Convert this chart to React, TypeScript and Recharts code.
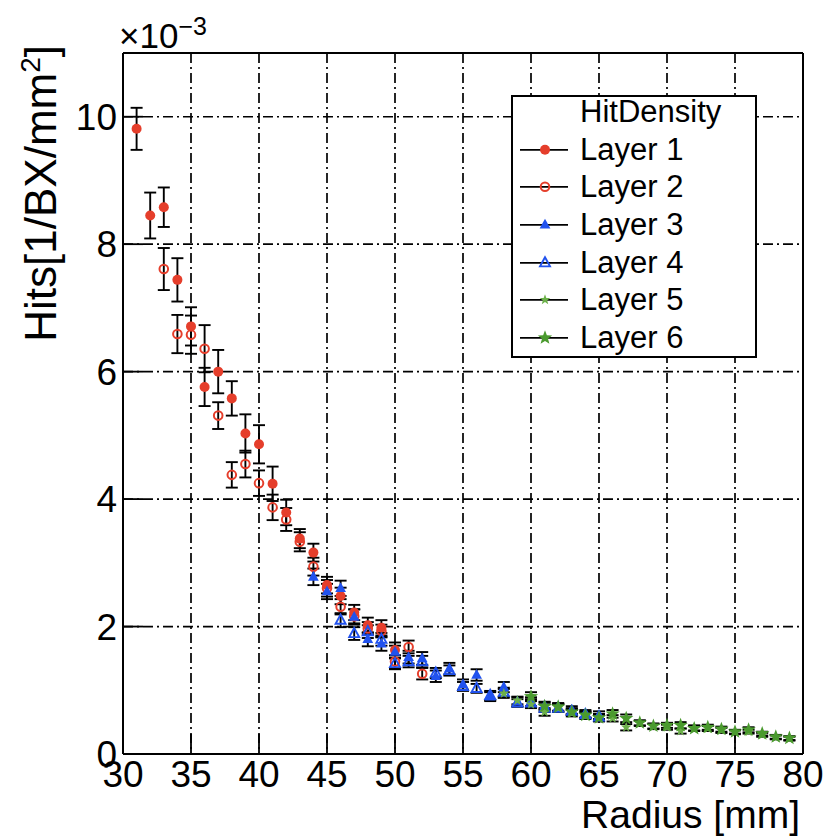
import React from 'react'
import {
  ScatterChart, Scatter, XAxis, YAxis, CartesianGrid, ErrorBar, ReferenceLine,
} from 'recharts'

// radius bins [mm] and hit densities (x1e-3 hits / BX / mm^2) per layer
const layer1Radius = [31, 32, 33, 34, 35, 36, 37, 38, 39, 40, 41, 42, 43, 44, 45, 46, 47, 48, 49, 50]
const layer1Hits = [9.81, 8.45, 8.58, 7.44, 6.71, 5.76, 6.0, 5.58, 5.03, 4.86, 4.24, 3.79, 3.38, 3.16, 2.65, 2.48, 2.22, 2.02, 1.98, 1.63]
const layer1Err = [0.33, 0.36, 0.31, 0.34, 0.3, 0.3, 0.34, 0.27, 0.3, 0.3, 0.27, 0.2, 0.15, 0.14, 0.13, 0.13, 0.12, 0.12, 0.12, 0.12]

const layer2Radius = [33, 34, 35, 36, 37, 38, 39, 40, 41, 42, 43, 44, 45, 46, 47, 48, 49, 50, 51, 52]
const layer2Hits = [7.61, 6.59, 6.58, 6.36, 5.31, 4.38, 4.55, 4.25, 3.87, 3.68, 3.33, 2.94, 2.6, 2.31, 2.16, 1.97, 1.93, 1.45, 1.68, 1.26]
const layer2Err = [0.33, 0.3, 0.3, 0.37, 0.21, 0.2, 0.21, 0.2, 0.2, 0.18, 0.15, 0.14, 0.13, 0.12, 0.11, 0.1, 0.1, 0.1, 0.1, 0.09]

const layer3Radius = [44, 45, 46, 47, 48, 49, 50, 51, 52, 53, 54, 55, 56, 57, 58, 59, 60, 61, 62, 63, 64, 65]
const layer3Hits = [2.78, 2.55, 2.6, 2.15, 1.8, 1.73, 1.6, 1.52, 1.5, 1.22, 1.34, 1.09, 1.24, 0.9, 1.05, 0.82, 0.82, 0.76, 0.73, 0.69, 0.63, 0.61]
const layer3Err = [0.13, 0.12, 0.12, 0.12, 0.11, 0.11, 0.1, 0.1, 0.1, 0.09, 0.09, 0.08, 0.09, 0.07, 0.08, 0.07, 0.07, 0.06, 0.06, 0.06, 0.06, 0.06]

const layer4Radius = [46, 47, 48, 49, 50, 51, 52, 53, 54, 55, 56, 57, 58, 59, 60, 61, 62, 63, 64, 65]
const layer4Hits = [2.1, 1.89, 1.92, 1.8, 1.42, 1.45, 1.45, 1.27, 1.31, 1.06, 1.03, 0.92, 0.97, 0.8, 0.8, 0.72, 0.72, 0.67, 0.62, 0.58]
const layer4Err = [0.11, 0.1, 0.1, 0.1, 0.09, 0.09, 0.09, 0.08, 0.08, 0.07, 0.07, 0.07, 0.07, 0.06, 0.06, 0.06, 0.06, 0.05, 0.05, 0.05]

const layer5Radius = [58, 59, 60, 61, 62, 63, 64, 65, 66, 67, 68, 69, 70, 71, 72, 73, 74, 75, 76, 77, 78, 79]
const layer5Hits = [0.95, 0.84, 0.78, 0.66, 0.72, 0.64, 0.6, 0.56, 0.56, 0.42, 0.48, 0.43, 0.42, 0.36, 0.41, 0.4, 0.37, 0.34, 0.35, 0.3, 0.26, 0.24]
const layer5Err = [0.07, 0.06, 0.06, 0.06, 0.06, 0.05, 0.05, 0.05, 0.05, 0.05, 0.04, 0.04, 0.04, 0.04, 0.04, 0.04, 0.04, 0.03, 0.03, 0.03, 0.03, 0.03]

const layer6Radius = [60, 61, 62, 63, 64, 65, 66, 67, 68, 69, 70, 71, 72, 73, 74, 75, 76, 77, 78, 79]
const layer6Hits = [0.9, 0.75, 0.74, 0.66, 0.61, 0.57, 0.63, 0.56, 0.49, 0.44, 0.45, 0.45, 0.4, 0.42, 0.39, 0.35, 0.38, 0.32, 0.27, 0.25]
const layer6Err = [0.07, 0.06, 0.06, 0.05, 0.05, 0.05, 0.06, 0.06, 0.04, 0.04, 0.04, 0.05, 0.04, 0.04, 0.04, 0.03, 0.04, 0.03, 0.03, 0.03]

const xTicks = [30, 35, 40, 45, 50, 55, 60, 65, 70, 75, 80]
const yTicks = [0, 2, 4, 6, 8, 10]
const xMinorTicks = Array.from({ length: 51 }, (_, i) => 30 + i)
const yMinorTicks = Array.from({ length: 23 }, (_, i) => i * 0.5)

const RED = '#e53e2b'
const BLUE = '#2152ee'
const GREEN_LIGHT = '#6cb04a'
const GREEN_DARK = '#4a9a2e'
const FONT = '"Liberation Sans", Arial, Helvetica, sans-serif'

const toPoints = (r: number[], v: number[], e: number[]) =>
  r.map((x, i) => ({ r: x, hits: v[i], err: e[i] }))

type MarkerKind = 'dot' | 'ring' | 'tri' | 'triOpen' | 'starSmall' | 'star'

function starPoints(cx: number, cy: number, R: number) {
  const pts: string[] = []
  for (let i = 0; i < 10; i++) {
    const rad = i % 2 === 0 ? R : R * 0.42
    const a = -Math.PI / 2 + (i * Math.PI) / 5
    pts.push(`${cx + rad * Math.cos(a)},${cy + rad * Math.sin(a)}`)
  }
  return pts.join(' ')
}

function Marker({ kind, cx, cy }: { kind: MarkerKind; cx: number; cy: number }) {
  switch (kind) {
    case 'dot':
      return <circle cx={cx} cy={cy} r={5} fill={RED} />
    case 'ring':
      return <circle cx={cx} cy={cy} r={4.3} fill="none" stroke={RED} strokeWidth={2} />
    case 'tri':
      return <polygon points={`${cx},${cy - 6} ${cx - 5.4},${cy + 3.8} ${cx + 5.4},${cy + 3.8}`} fill={BLUE} />
    case 'triOpen':
      return <polygon points={`${cx},${cy - 5.6} ${cx - 5},${cy + 3.6} ${cx + 5},${cy + 3.6}`} fill="none" stroke={BLUE} strokeWidth={1.9} />
    case 'starSmall':
      return <polygon points={starPoints(cx, cy, 5.5)} fill={GREEN_LIGHT} />
    default:
      return <polygon points={starPoints(cx, cy, 7.5)} fill={GREEN_DARK} />
  }
}

const layers: { name: string; kind: MarkerKind; data: { r: number; hits: number; err: number }[] }[] = [
  { name: 'Layer 1', kind: 'dot', data: toPoints(layer1Radius, layer1Hits, layer1Err) },
  { name: 'Layer 2', kind: 'ring', data: toPoints(layer2Radius, layer2Hits, layer2Err) },
  { name: 'Layer 3', kind: 'tri', data: toPoints(layer3Radius, layer3Hits, layer3Err) },
  { name: 'Layer 4', kind: 'triOpen', data: toPoints(layer4Radius, layer4Hits, layer4Err) },
  { name: 'Layer 5', kind: 'starSmall', data: toPoints(layer5Radius, layer5Hits, layer5Err) },
  { name: 'Layer 6', kind: 'star', data: toPoints(layer6Radius, layer6Hits, layer6Err) },
]

function LegendBox() {
  const rowH = 37.6
  return (
    <div style={{
      position: 'absolute', left: 511, top: 95, width: 242, height: 259,
      border: '2px solid #000', background: '#fff', fontFamily: FONT, fontSize: 31, color: '#000',
    }}>
      <div style={{ position: 'absolute', left: 67, top: -3.8, height: rowH, lineHeight: `${rowH}px`, whiteSpace: 'nowrap' }}>
        HitDensity
      </div>
      {layers.map((l, i) => (
        <div key={l.name} style={{ position: 'absolute', left: 0, top: -3.8 + rowH * (i + 1), height: rowH, width: 240 }}>
          <svg width={60} height={rowH} style={{ position: 'absolute', left: 0, top: 0 }}>
            <line x1={7} x2={55} y1={rowH / 2} y2={rowH / 2} stroke="#000" strokeWidth={1.8} />
            <Marker kind={l.kind} cx={32} cy={rowH / 2} />
          </svg>
          <span style={{ position: 'absolute', left: 67, top: 0, lineHeight: `${rowH}px`, whiteSpace: 'nowrap' }}>{l.name}</span>
        </div>
      ))}
    </div>
  )
}

export default function App() {
  const tickStyle = { fill: '#000', fontSize: 37, fontFamily: FONT }
  return (
    <div style={{ position: 'absolute', left: 0, top: 0, width: 825, height: 838, background: '#fff' }}>
      <ScatterChart width={825} height={838} margin={{ top: 53, right: 22, left: 63, bottom: 44 }}>
        <CartesianGrid stroke="#000" strokeWidth={1.7} strokeDasharray="10 4 2 4" />
        <XAxis
          type="number" dataKey="r" domain={[30, 80]} ticks={xTicks} interval={0}
          tick={tickStyle} tickSize={-20} tickMargin={27} height={40}
          axisLine={{ stroke: '#000', strokeWidth: 2 }} tickLine={{ stroke: '#000', strokeWidth: 1.8 }}
          allowDataOverflow
        />
        <XAxis
          xAxisId="minor" type="number" dataKey="r" domain={[30, 80]} ticks={xMinorTicks} interval={0}
          tick={false} tickSize={-10} height={0} axisLine={false}
          tickLine={{ stroke: '#000', strokeWidth: 1.8 }} allowDataOverflow
        />
        <YAxis
          type="number" dataKey="hits" domain={[0, 11]} ticks={yTicks} interval={0}
          tick={tickStyle} tickSize={-20} tickMargin={26} width={60}
          axisLine={{ stroke: '#000', strokeWidth: 2 }} tickLine={{ stroke: '#000', strokeWidth: 1.8 }}
          allowDataOverflow
        />
        <YAxis
          yAxisId="minor" type="number" dataKey="hits" domain={[0, 11]} ticks={yMinorTicks} interval={0}
          tick={false} tickSize={-10} width={0} axisLine={false}
          tickLine={{ stroke: '#000', strokeWidth: 1.8 }} allowDataOverflow
        />
        <ReferenceLine y={11} stroke="#000" strokeWidth={2} ifOverflow="visible" />
        <ReferenceLine x={80} stroke="#000" strokeWidth={2} ifOverflow="visible" />
        {layers.map((l) => (
          <Scatter
            key={l.name} name={l.name} data={l.data} isAnimationActive={false}
            shape={(p: any) => <Marker kind={l.kind} cx={p.cx} cy={p.cy} />}
          >
            <ErrorBar dataKey="err" direction="y" width={6} stroke="#000" strokeWidth={1.9} isAnimationActive={false} />
          </Scatter>
        ))}
      </ScatterChart>

      {/* exponent of the y axis */}
      <div style={{ position: 'absolute', left: 119, top: 18, fontFamily: FONT, fontSize: 35, lineHeight: 1, whiteSpace: 'nowrap' }}>
        ×10<span style={{ fontSize: 25, position: 'relative', top: -13 }}>−3</span>
      </div>

      {/* axis titles */}
      <div style={{
        position: 'absolute', left: 17, top: 352, width: 307, lineHeight: '48px', height: 48,
        transform: 'rotate(-90deg)', transformOrigin: '0 0', textAlign: 'right',
        fontFamily: FONT, fontSize: 44, whiteSpace: 'nowrap',
      }}>
        Hits[1/BX/mm<span style={{ fontSize: 28, position: 'relative', top: -16 }}>2</span>]
      </div>
      <div style={{
        position: 'absolute', left: 500, top: 795, width: 300, textAlign: 'right',
        fontFamily: FONT, fontSize: 39, lineHeight: 1, whiteSpace: 'nowrap',
      }}>
        Radius [mm]
      </div>

      <LegendBox />
    </div>
  )
}
